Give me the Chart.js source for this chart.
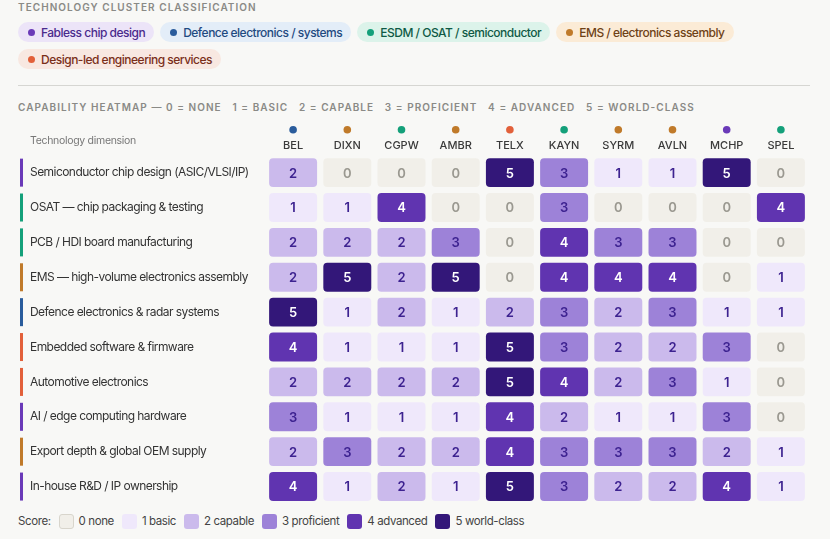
<!DOCTYPE html>
<html>
<head>
<meta charset="utf-8">
<script src="https://cdn.jsdelivr.net/npm/chart.js@4.4.1/dist/chart.umd.min.js"></script>
<style>
  body { margin: 0; background: #f8f8f6; font-family: Inter, "Noto Sans", sans-serif; width: 830px; height: 539px; overflow: hidden; position: relative; }
  .title { position: absolute; left: 18px; font-size: 10px; font-weight: 600; letter-spacing: 1.05px; color: #8a8a86; }
  .pills { position: absolute; left: 18px; top: 22px; width: 780px; display: flex; flex-wrap: wrap; gap: 7px 6px; }
  .pill { display: inline-flex; align-items: center; height: 20px; padding: 0 9px 0 10px; border-radius: 10px; font-size: 12px; font-weight: 500; letter-spacing: -0.5px; }
  .pill i { width: 7px; height: 7px; border-radius: 50%; margin-right: 6px; display: inline-block; }
  .rule { position: absolute; left: 18px; top: 85px; width: 792px; height: 1px; background: #d6d6d2; }
  .legend { position: absolute; left: 18px; top: 513px; height: 16px; font-size: 11.5px; color: #444; display: flex; align-items: center; letter-spacing: -0.4px; }
  .legend span.sw { width: 15px; height: 15px; border-radius: 3px; margin: 0 5px 0 8px; display: inline-block; box-sizing: border-box; }
  #wrap { position: absolute; left: 0; top: 115px; width: 830px; height: 395px; }
</style>
</head>
<body>
<div class="title" style="top:1px">TECHNOLOGY CLUSTER CLASSIFICATION</div>
<div class="pills" id="pills"></div>
<div class="rule"></div>
<div class="title" style="top:101px">CAPABILITY HEATMAP — 0 = NONE &nbsp; 1 = BASIC &nbsp; 2 = CAPABLE &nbsp; 3 = PROFICIENT &nbsp; 4 = ADVANCED &nbsp; 5 = WORLD-CLASS</div>
<div id="wrap"><canvas id="heat"></canvas></div>
<div class="legend" id="legend"><span>Score:</span></div>
<script>
const companies = ["BEL", "DIXN", "CGPW", "AMBR", "TELX", "KAYN", "SYRM", "AVLN", "MCHP", "SPEL"];
const companyCluster = ["def", "ems", "esdm", "ems", "design", "esdm", "ems", "ems", "fabless", "esdm"];

const dimensions = [
  "Semiconductor chip design (ASIC/VLSI/IP)",
  "OSAT — chip packaging & testing",
  "PCB / HDI board manufacturing",
  "EMS — high-volume electronics assembly",
  "Defence electronics & radar systems",
  "Embedded software & firmware",
  "Automotive electronics",
  "AI / edge computing hardware",
  "Export depth & global OEM supply",
  "In-house R&D / IP ownership"
];
const dimensionCluster = ["fabless", "esdm", "esdm", "ems", "def", "design", "design", "fabless", "ems", "fabless"];

// scores[row][company]
const scores = [
  [2, 0, 0, 0, 5, 3, 1, 1, 5, 0],
  [1, 1, 4, 0, 0, 3, 0, 0, 0, 4],
  [2, 2, 2, 3, 0, 4, 3, 3, 0, 0],
  [2, 5, 2, 5, 0, 4, 4, 4, 0, 1],
  [5, 1, 2, 1, 2, 3, 2, 3, 1, 1],
  [4, 1, 1, 1, 5, 3, 2, 2, 3, 0],
  [2, 2, 2, 2, 5, 4, 2, 3, 1, 0],
  [3, 1, 1, 1, 4, 2, 1, 1, 3, 0],
  [2, 3, 2, 2, 4, 3, 3, 3, 2, 1],
  [4, 1, 2, 1, 5, 3, 2, 2, 4, 1]
];

const scoreLabels = ["0 none", "1 basic", "2 capable", "3 proficient", "4 advanced", "5 world-class"];
const scoreFill = ["#f1efe9", "#efe8fb", "#cbbaec", "#9d82d8", "#6034b0", "#331779"];
const scoreText = ["#9a9890", "#3d2290", "#3d2290", "#3d2290", "#ffffff", "#ffffff"];

const clusters = {
  fabless: { name: "Fabless chip design", dot: "#6a3ab8", bg: "#ece4f8", text: "#4a2a8c" },
  def: { name: "Defence electronics / systems", dot: "#2a5c9c", bg: "#e3edf8", text: "#1f4a80" },
  esdm: { name: "ESDM / OSAT / semiconductor", dot: "#14a07a", bg: "#dcf3ea", text: "#0f5a45" },
  ems: { name: "EMS / electronics assembly", dot: "#c07a2a", bg: "#fbebd6", text: "#6e4216" },
  design: { name: "Design-led engineering services", dot: "#e2603a", bg: "#f8e8e1", text: "#7a2f1a" }
};

// cluster pills
const pills = document.getElementById("pills");
Object.values(clusters).forEach(c => {
  const p = document.createElement("span");
  p.className = "pill";
  p.style.background = c.bg;
  p.style.color = c.text;
  p.innerHTML = `<i style="background:${c.dot}"></i>${c.name}`;
  pills.appendChild(p);
});

// score legend
const legend = document.getElementById("legend");
scoreLabels.forEach((l, i) => {
  const sw = document.createElement("span");
  sw.className = "sw";
  sw.style.background = scoreFill[i];
  if (i === 0) sw.style.border = "1px solid #d8d5cc";
  legend.appendChild(sw);
  const t = document.createElement("span");
  t.textContent = l;
  legend.appendChild(t);
});

// one floating-bar dataset per dimension row, all sharing the same x slots
const datasets = dimensions.map((d, r) => ({
  label: d,
  data: scores[r].map(() => [r - 0.414, r + 0.414]),
  scores: scores[r],
  backgroundColor: scores[r].map(s => scoreFill[s]),
  borderRadius: 4,
  borderSkipped: false,
  grouped: false,
  categoryPercentage: 1,
  barPercentage: 0.885
}));

const heatDecor = {
  id: "heatDecor",
  afterDatasetsDraw(chart) {
    const { ctx, scales: { x, y } } = chart;
    ctx.save();
    // cell values
    ctx.textAlign = "center";
    ctx.textBaseline = "middle";
    ctx.font = "600 13px Inter, sans-serif";
    chart.data.datasets.forEach((ds, r) => {
      chart.getDatasetMeta(r).data.forEach((bar, c) => {
        const s = ds.scores[c];
        ctx.fillStyle = scoreText[s];
        ctx.fillText(String(s), bar.x, y.getPixelForValue(r) + 1);
      });
    });
    // row labels with cluster bars
    ctx.textAlign = "left";
    ctx.font = "400 12px Inter, sans-serif";
    ctx.letterSpacing = "-0.55px";
    dimensions.forEach((d, r) => {
      const py = y.getPixelForValue(r);
      ctx.fillStyle = clusters[dimensionCluster[r]].dot;
      ctx.fillRect(20, py - 14, 3, 28);
      ctx.fillStyle = "#333";
      ctx.fillText(d, 30, py);
    });
    // column cluster dots
    companies.forEach((c, i) => {
      ctx.beginPath();
      ctx.fillStyle = clusters[companyCluster[i]].dot;
      ctx.arc(x.getPixelForValue(i), chart.chartArea.top - 25.5, 3.8, 0, Math.PI * 2);
      ctx.fill();
    });
    ctx.fillStyle = "#777";
    ctx.font = "400 10.5px Inter, sans-serif";
    ctx.letterSpacing = "-0.3px";
    ctx.fillText("Technology dimension", 30, chart.chartArea.top - 14);
    ctx.restore();
  }
};

new Chart(document.getElementById("heat"), {
  type: "bar",
  data: { labels: companies, datasets },
  options: {
    responsive: true,
    maintainAspectRatio: false,
    animation: false,
    layout: { padding: { left: 266, right: 22, top: 21, bottom: 6 } },
    plugins: { legend: { display: false }, tooltip: { enabled: false } },
    scales: {
      x: {
        position: "top",
        grid: { display: false, drawTicks: false, tickLength: 0 },
        border: { display: false },
        ticks: { color: "#3a3a3a", font: { family: "Inter", size: 11, weight: "500" }, padding: 3 }
      },
      y: {
        display: false,
        reverse: true,
        min: -0.5,
        max: 9.5
      }
    }
  },
  plugins: [heatDecor]
});
</script>
</body>
</html>
